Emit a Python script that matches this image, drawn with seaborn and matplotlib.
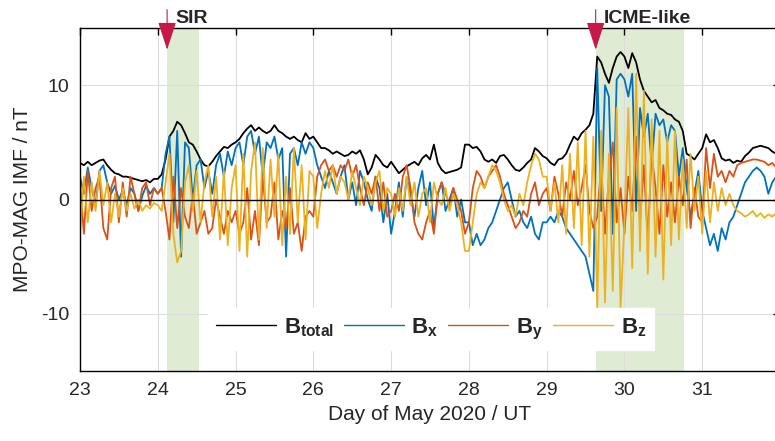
import numpy as np
import pandas as pd
import matplotlib
matplotlib.use("Agg")
import matplotlib.pyplot as plt
import seaborn as sns
from matplotlib.lines import Line2D

# ---- data (sampled every 0.05 day from 23.00 to 31.95) ----
t_start = 23.0
t_step = 0.05

b_total = [
    3.2, 3.0, 3.3, 3.0, 3.2, 3.4, 3.5, 3.0, 2.6, 2.3, 2.2, 2.0, 2.0, 1.9, 1.8, 1.7, 1.6, 1.7, 1.5, 1.8,
    1.8, 2.2, 3.5, 5.5, 6.0, 6.8, 6.5, 5.8, 5.0, 4.8, 4.2, 3.5, 3.0, 2.9, 3.3, 3.8, 4.2, 4.6, 4.5, 4.8,
    5.0, 5.3, 5.8, 6.2, 6.5, 6.0, 6.3, 6.0, 5.8, 6.0, 6.5, 6.0, 5.8, 5.5, 5.3, 5.5, 5.2, 5.0, 5.8, 5.3,
    5.5, 5.0, 4.5, 4.5, 4.3, 4.0, 4.2, 4.0, 3.8, 3.9, 4.2, 4.0, 4.3, 3.5, 2.2, 2.8, 3.9, 3.5, 3.0, 2.8,
    3.3, 2.8, 2.3, 2.6, 2.9, 3.1, 3.3, 3.0, 3.6, 3.9, 3.5, 4.8, 3.2, 2.6, 2.3, 2.4, 2.5, 2.6, 2.8, 4.8,
    4.8, 4.5, 4.6, 4.2, 3.5, 3.3, 3.5, 3.2, 3.8, 3.9, 3.5, 3.0, 2.6, 2.5, 2.8, 3.2, 3.5, 4.5, 4.2, 3.8,
    3.6, 3.2, 3.0, 3.5, 3.6, 4.0, 4.8, 5.5, 5.2, 5.8, 6.1, 6.5, 7.5, 12.5, 12.0, 11.0, 10.2, 11.5, 12.5, 12.9,
    12.5, 11.5, 12.8, 12.0, 10.5, 9.5, 9.0, 8.5, 8.7, 8.0, 7.8, 7.5, 7.4, 7.0, 6.8, 6.0, 4.0, 3.8, 3.5, 4.0,
    4.5, 5.7, 5.0, 5.2, 4.5, 3.6, 3.4, 3.5, 3.2, 3.4, 3.3, 3.8, 4.1, 4.5, 4.6, 4.7, 4.6, 4.5, 4.2, 4.0,
]

b_x = [
    2.0, 0.5, 2.8, 1.0, -0.5, 2.5, 3.0, 1.5, 0.5, 1.2, 0.0, 0.8, -0.5, 1.0, 0.5, -1.0, 0.3, 1.2, 0.5, 1.0,
    0.5, 1.0, 4.0, 5.5, -2.0, 6.0, -5.0, 5.0, 4.5, 0.0, 3.0, 3.5, 1.0, 2.5, 0.5, 3.0, 4.0, 2.0, 4.2, 3.0,
    4.5, 5.0, 3.0, 5.5, 6.0, 4.0, 5.5, 2.0, 5.0, 4.5, 5.5, 3.5, 4.5, -5.0, 4.0, 4.5, 3.0, 5.0, 4.0, 5.0,
    4.5, 3.0, 2.0, 1.0, 2.5, 1.5, 0.5, 2.0, 3.0, 0.0, 1.5, -0.5, 2.5, 1.5, 0.0, -1.0, 2.0, 1.0, -2.0, 0.5,
    -3.0, -1.0, 1.5, -1.5, 2.0, 0.5, -1.5, 1.0, 2.5, -0.5, 1.5, -2.5, 0.5, 1.5, -1.0, 0.0, 1.0, -1.5, 0.0, -2.0,
    -2.0, -4.0, -3.0, -4.0, -3.5, -2.5, -2.0, -1.0, 0.0, 1.0, 1.5, 0.0, -1.5, -1.0, -2.0, -2.5, -1.5, -3.0, -3.5, -2.0,
    -2.0, -1.5, -2.0, -1.0, -1.5, -2.5, -3.0, -3.5, -4.0, -4.5, -5.0, -6.5, -8.0, 11.5, -1.0, 10.0, 9.0, -3.0, 10.5, 11.0,
    10.5, 9.0, 11.0, -1.0, 8.0, 5.5, 7.5, 3.0, 7.5, 6.5, 7.0, 5.0, 6.5, 6.0, 2.0, 4.5, 1.0, -1.5, 0.5, 2.5,
    -1.0, -2.5, -4.0, -3.0, -4.5, -2.5, -3.5, -2.0, -1.5, -0.5, 0.5, 1.5, 2.0, 2.5, 2.8, 2.5, 2.0, 0.5, 1.5, 2.0,
]

b_y = [
    1.5, -3.0, 2.5, -1.0, 1.0, 2.0, -2.5, -3.5, 1.0, 2.0, -2.0, 1.5, -1.5, 2.0, 0.5, -1.0, 1.0, 1.5, -0.5, 1.0,
    0.5, 1.0, -1.0, -3.5, 2.0, -2.5, 1.0, -1.5, -2.5, 0.5, -3.0, -2.0, -1.0, -3.0, -2.5, 0.0, -1.5, -3.0, -1.0, -2.0,
    -1.0, -3.0, -2.0, 1.0, -3.5, -1.0, -4.0, 2.0, -2.0, -1.5, 1.5, -3.5, -1.0, -2.5, 1.0, -3.0, -2.0, -4.5, -1.5, -1.0,
    -1.5, 2.0, 3.0, 3.5, 2.5, 3.0, 2.0, 3.0, 2.5, 3.5, 2.0, 3.0, 1.0, -0.5, 1.5, 0.5, 2.0, -1.0, 1.5, -1.5,
    -1.0, 0.5, -1.0, 2.0, 3.0, 1.0, -2.0, -3.0, -3.5, -2.0, -1.0, -3.0, 0.5, 1.5, 0.5, -0.5, 1.0, 0.0, -1.0, -3.0,
    -2.0, 1.0, 2.5, 2.0, 1.0, 2.0, 2.5, 3.0, 2.0, 0.5, -0.5, -1.5, -2.5, -2.0, -1.0, -1.5, 0.5, 1.5, -0.5, 0.5,
    1.0, -1.0, 2.0, 0.5, -1.5, 1.5, 0.0, 2.5, -0.5, 1.0, 3.0, -1.0, -2.5, -1.5, 3.0, -3.0, 2.0, 5.0, -2.0, 1.0,
    -3.0, 2.0, -1.0, 5.5, -2.0, 3.0, -3.5, 4.0, 1.0, -3.0, 3.0, -1.5, 1.5, -2.0, 2.0, -0.5, 3.5, -2.5, 1.0, -1.5,
    -2.0, 4.5, 1.0, 4.0, 2.0, 2.5, 1.5, 2.5, 2.0, 3.0, 3.2, 3.3, 3.4, 3.5, 3.5, 3.4, 3.3, 3.0, 3.2, 2.8,
]

b_z = [
    -3.0, 2.0, -2.0, 1.5, -1.0, 2.5, -0.5, 1.5, -2.0, 0.5, -1.5, 1.0, -1.0, 0.5, -0.8, 0.0, -1.0, -0.5, -0.8, -0.3,
    -0.5, -1.0, 1.5, 4.0, -3.0, -5.5, -4.5, 1.5, 3.0, -1.0, 2.5, -2.0, 1.5, 3.0, -1.5, 2.0, -3.5, 2.5, -4.0, 1.0,
    3.0, -4.5, 4.0, -5.0, 2.5, 5.0, -3.5, 4.5, -2.5, 3.5, -1.5, 4.0, -4.0, 2.0, -3.0, 4.5, -2.0, 3.0, -3.5, 2.5,
    2.0, -2.5, 0.5, 2.5, 1.0, 3.0, 0.5, 2.0, 1.5, 0.0, 2.5, 1.0, -0.5, 2.0, 1.0, -0.5, 1.5, 2.5, -1.0, 1.0,
    0.5, -1.5, 1.0, -1.0, 2.0, -0.5, 1.5, -1.5, 0.5, 1.0, -2.0, 1.5, 0.0, -0.5, 1.0, -1.0, 0.5, -0.5, -2.0, -4.5,
    -4.5, -2.0, 0.5, 1.5, 1.0, 2.0, 3.0, 2.5, 1.5, 0.0, -1.0, -0.5, -1.5, 0.5, -0.5, 1.5, 3.0, 4.0, 3.5, 2.0,
    2.0, -1.0, 1.5, -2.0, 3.0, -3.0, 4.0, -2.5, 5.0, -4.0, 6.0, -5.0, 5.5, -9.5, 6.0, -9.0, 4.0, -8.0, 8.0, -9.5,
    -2.0, 8.0, -6.0, 11.0, -4.5, 9.5, -6.5, 7.0, -5.0, 6.0, -7.0, 5.5, -4.0, 6.0, -3.5, 3.5, -2.5, 4.0, -1.0, 2.0,
    -3.0, 2.5, -2.0, 1.5, -1.0, 1.0, -0.5, 0.5, -0.5, -1.0, -1.2, -1.5, -1.3, -1.0, -1.5, -1.2, -1.6, -1.3, -1.5, -1.2,
]

components = ["B_total", "B_x", "B_y", "B_z"]
legend_labels = [r"$\mathbf{B_{total}}$", r"$\mathbf{B_x}$", r"$\mathbf{B_y}$", r"$\mathbf{B_z}$"]
colors = ["#000000", "#0072BD", "#D95319", "#EDB120"]

x_ticks = [23, 24, 25, 26, 27, 28, 29, 30, 31]
y_ticks = [-10, 0, 10]
events = ["SIR", "ICME-like"]
event_start = [24.12, 29.63]
event_end = [24.53, 30.77]

# ---- build long-form table ----
n = len(b_total)
time = [t_start + t_step * i for i in range(n)]
df = pd.concat([
    pd.DataFrame({"t": time, "B": vals, "comp": name})
    for name, vals in zip(components, [b_total, b_x, b_y, b_z])
], ignore_index=True)

sns.set_theme(style="white")
plt.rcParams["font.family"] = ["Liberation Sans", "DejaVu Sans"]
plt.rcParams["mathtext.fontset"] = "custom"
plt.rcParams["mathtext.bf"] = "Liberation Sans:bold"
plt.rcParams["mathtext.rm"] = "Liberation Sans"

W, H = 775, 441
fig = plt.figure(figsize=(W / 100, H / 100), dpi=100)
ax_l, ax_r, ax_t, ax_b = 80, 780, 28, 371
ax = fig.add_axes([ax_l / W, 1 - ax_b / H, (ax_r - ax_l) / W, (ax_b - ax_t) / H])

shade = "#e0ebd3"
for s, e in zip(event_start, event_end):
    ax.axvspan(s, e, color=shade, lw=0, zorder=0)

ax.grid(True, color="#dcdcdc", lw=0.8, zorder=0.5)
ax.set_axisbelow(True)

sns.lineplot(data=df, x="t", y="B", hue="comp", hue_order=components,
             palette=colors, lw=1.3, estimator=None, sort=False,
             legend=False, ax=ax, zorder=2)
ax.axhline(0, color="black", lw=1.0, zorder=3)

ax.set_xlim(23, 32)
ax.set_ylim(-15, 15)
ax.set_xticks(x_ticks)
ax.set_yticks(y_ticks)
ax.set_xticklabels([str(v) for v in x_ticks])
ax.set_yticklabels([str(v) for v in y_ticks])
ax.tick_params(direction="in", length=5, width=1, top=True, right=True,
               labelsize=14, color="black", pad=8)
for sp in ax.spines.values():
    sp.set_color("black")
    sp.set_linewidth(1.0)
ax.set_xlabel("Day of May 2020 / UT", fontsize=15, labelpad=4)
ax.set_ylabel("MPO-MAG IMF / nT", fontsize=15, labelpad=6)

handles = [Line2D([0], [0], color=c, lw=1.0) for c in colors]
leg = ax.legend(handles, legend_labels, loc="lower left",
                bbox_to_anchor=(0.167, 0.03), ncol=4, frameon=True,
                fontsize=16, handlelength=2.7, handletextpad=0.35,
                columnspacing=0.45, borderpad=0.35, fancybox=False)
leg.get_frame().set_facecolor("white")
leg.get_frame().set_edgecolor("white")
leg.get_frame().set_alpha(1)
leg.set_zorder(5)

arrow_col = "#c8184a"
for name, s in zip(events, event_start):
    ax.annotate("", xy=(s, 13.1), xytext=(s, 16.6),
                arrowprops=dict(arrowstyle="-|>,head_length=0.8,head_width=0.26",
                                color=arrow_col, lw=0.8,
                                mutation_scale=22, shrinkA=0, shrinkB=0),
                annotation_clip=False, zorder=6)
    ax.text(s + 0.1, 15.1, name, fontsize=14, fontweight="bold",
            ha="left", va="bottom", clip_on=False)

fig.savefig("out.png", dpi=100)
